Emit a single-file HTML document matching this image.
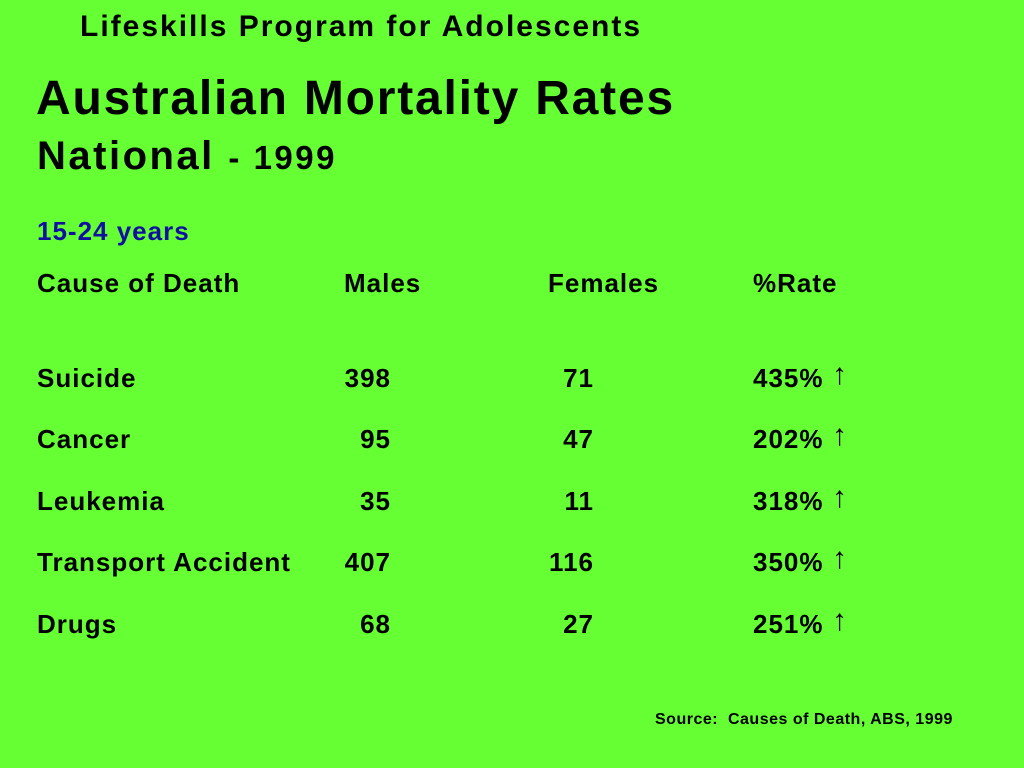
<!DOCTYPE html>
<html><head><meta charset="utf-8"><style>
body{margin:0;width:1024px;height:768px;background:#66ff33;overflow:hidden;font-family:"Liberation Sans",Arial,sans-serif;font-weight:bold;color:#000;position:relative}
div{position:absolute;white-space:nowrap}
.r{font-size:26px;line-height:26px;letter-spacing:1px}
.rt{text-align:right;width:90px}
</style></head><body>
<div style="left:80px;top:9px;font-size:30px;line-height:36px;letter-spacing:2px">Lifeskills Program for Adolescents</div>
<div style="left:36px;top:73px;font-size:48px;line-height:52px;letter-spacing:1.8px">Australian Mortality Rates</div>
<div style="left:37px;top:134px;font-size:40px;line-height:44px;letter-spacing:2.5px">National <span style="font-size:33px;letter-spacing:2.5px">- 1999</span></div>
<div style="left:37px;top:218px;font-size:26px;line-height:26px;letter-spacing:1px;color:#1010a0">15-24 years</div>
<div style="left:0;top:0;width:1024px;height:768px" id="t"></div>
<div style="left:655px;top:711px;font-size:16px;line-height:18px;letter-spacing:0.5px">Source:&nbsp; Causes of Death, ABS, 1999</div>
<script>
const causes=["Suicide","Cancer","Leukemia","Transport Accident","Drugs"];
const males=[398,95,35,407,68];
const females=[71,47,11,116,27];
const rates=[435,202,318,350,251];
const t=document.getElementById('t');
function add(txt,x,y,name,right){const d=document.createElement('div');d.className='r'+(right?' rt':'');d.textContent=txt;d.style.left=x+'px';d.style.top=y+'px';


t.appendChild(d);return d;}
add("Cause of Death",37,270,'header-cause');
add("Males",344,270,'header-males');
add("Females",548,270,'header-females');
add("%Rate",753,270,'header-rate');
const ys=[365,426,488,549,611];
causes.forEach((c,i)=>{
add(c,37,ys[i],'cause-'+i);
add(String(males[i]),301,ys[i],'males-'+i,true);
add(String(females[i]),504,ys[i],'females-'+i,true);
add(rates[i]+"%",753,ys[i],'rate-'+i);
const a=add("\u2191",832,ys[i]-3,'rate-arrow-'+i);
a.style.fontSize='30px';
});
</script>
</body></html>
